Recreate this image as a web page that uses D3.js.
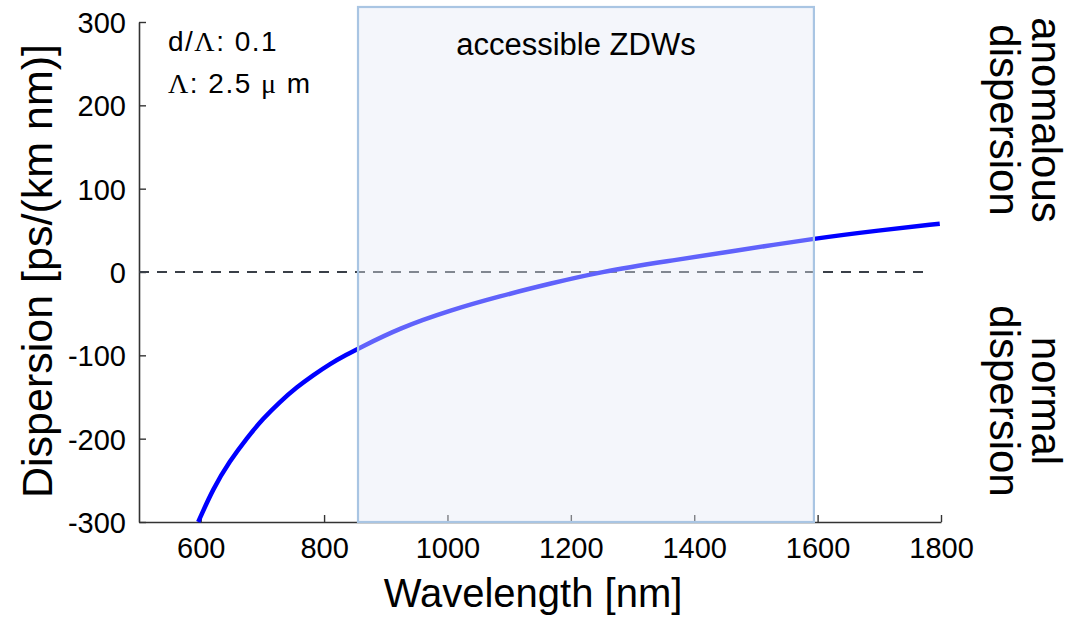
<!DOCTYPE html>
<html>
<head>
<meta charset="utf-8">
<script src="https://cdn.jsdelivr.net/npm/d3@7"></script>
<style>
  body { margin: 0; background: #fff; }
  text { font-family: "Liberation Sans", Arial, sans-serif; fill: #000; }
</style>
</head>
<body>
<div id="chart"></div>
<script>
// dispersion curve
const wavelength = [596, 620, 647, 675, 701, 728, 756, 782, 810, 837, 855, 923, 1004, 1085, 1166, 1247, 1356, 1463, 1592, 1700, 1798];
const dispersion = [-300, -260, -227, -199, -176, -156, -138, -124, -110, -99, -92, -67, -46, -29, -14, 0, 13, 25, 40, 50, 58];

const xTicks = [600, 800, 1000, 1200, 1400, 1600, 1800];
const yTicks = [-300, -200, -100, 0, 100, 200, 300];

// shaded band of accessible zero-dispersion wavelengths
const zdwRange = [855, 1594];
const zdwTop = 318;
const zeroLineEnd = 1775;

const width = 1080, height = 619;
const margin = {top: 22, right: 139, bottom: 97, left: 139};
const innerW = width - margin.left - margin.right;
const innerH = height - margin.top - margin.bottom;

const svg = d3.select("#chart")
    .append("svg")
    .attr("width", width)
    .attr("height", height);

const g = svg.append("g")
    .attr("transform", `translate(${margin.left},${margin.top})`);

const x = d3.scaleLinear().domain([500, 1800]).range([0, innerW]);
const y = d3.scaleLinear().domain([-300, 300]).range([innerH, 0]);

// Axes (ticks point inward)
const xAxis = g.append("g")
    .attr("transform", `translate(0,${innerH})`)
    .call(d3.axisBottom(x).tickValues(xTicks).tickFormat(d => String(d))
        .tickSizeInner(-7).tickSizeOuter(0).tickPadding(15));

const yAxis = g.append("g")
    .call(d3.axisLeft(y).tickValues(yTicks).tickFormat(d => String(d))
        .tickSizeInner(-7).tickSizeOuter(0).tickPadding(13));

[xAxis, yAxis].forEach(a => {
    a.select(".domain").attr("stroke", "#333").attr("stroke-width", 1.6);
    a.selectAll(".tick line").attr("stroke", "#333").attr("stroke-width", 1.4);
    a.selectAll(".tick text").style("font-size", "29px").attr("fill", "#000");
});
yAxis.selectAll(".tick text").attr("dy", "0.36em");

// zero line
g.append("line")
    .attr("x1", x(500))
    .attr("x2", x(zeroLineEnd))
    .attr("y1", y(0))
    .attr("y2", y(0))
    .attr("stroke", "#3a4048")
    .attr("stroke-width", 2)
    .attr("stroke-dasharray", "10 8");

// dispersion curve
const pts = wavelength.map((w, i) => ({w, d: dispersion[i]}));
const line = d3.line()
    .x(d => x(d.w))
    .y(d => y(d.d))
    .curve(d3.curveBasis);

g.append("path")
    .datum(pts)
    .attr("fill", "none")
    .attr("stroke", "#0000ff")
    .attr("stroke-width", 4.5)
    .attr("d", line);

// accessible ZDW box drawn over the curve
g.append("rect")
    .attr("x", x(zdwRange[0]))
    .attr("y", y(zdwTop))
    .attr("width", x(zdwRange[1]) - x(zdwRange[0]))
    .attr("height", y(-300) - y(zdwTop))
    .attr("fill", "rgb(228,233,245)")
    .attr("fill-opacity", 0.42)
    .attr("stroke", "#a9c5e3")
    .attr("stroke-width", 2.2);

g.append("text")
    .attr("x", x((zdwRange[0] + zdwRange[1]) / 2) - 10)
    .attr("y", 33)
    .attr("text-anchor", "middle")
    .style("font-size", "31px")
    .text("accessible ZDWs");

// parameters
const params = g.append("g").style("font-size", "28px").style("letter-spacing", "1.5px");
const p1 = params.append("text").attr("x", 29).attr("y", 29);
p1.append("tspan").text("d/");
p1.append("tspan").style("font-family", "'Liberation Serif', serif").text("Λ");
p1.append("tspan").text(": 0.1");
const p2 = params.append("text").attr("x", 29).attr("y", 71);
p2.append("tspan").style("font-family", "'Liberation Serif', serif").text("Λ");
p2.append("tspan").text(": 2.5 ");
p2.append("tspan").style("font-family", "'Liberation Serif', serif").text("μ");
p2.append("tspan").text(" m");

// axis titles
svg.append("text")
    .attr("x", 533)
    .attr("y", 607)
    .attr("text-anchor", "middle")
    .style("font-size", "40px")
    .text("Wavelength [nm]");

svg.append("text")
    .attr("transform", `translate(52,271) rotate(-90)`)
    .attr("text-anchor", "middle")
    .style("font-size", "43px")
    .text("Dispersion [ps/(km nm)]");

// regime labels on the right
const regimes = [
    {lines: ["anomalous", "dispersion"], cy: 120},
    {lines: ["normal", "dispersion"], cy: 401}
];
regimes.forEach(r => {
    r.lines.forEach((t, i) => {
        svg.append("text")
            .attr("transform", `translate(${1032 - i * 42},${r.cy}) rotate(90)`)
            .attr("text-anchor", "middle")
            .style("font-size", "42px")
            .text(t);
    });
});
</script>
</body>
</html>
